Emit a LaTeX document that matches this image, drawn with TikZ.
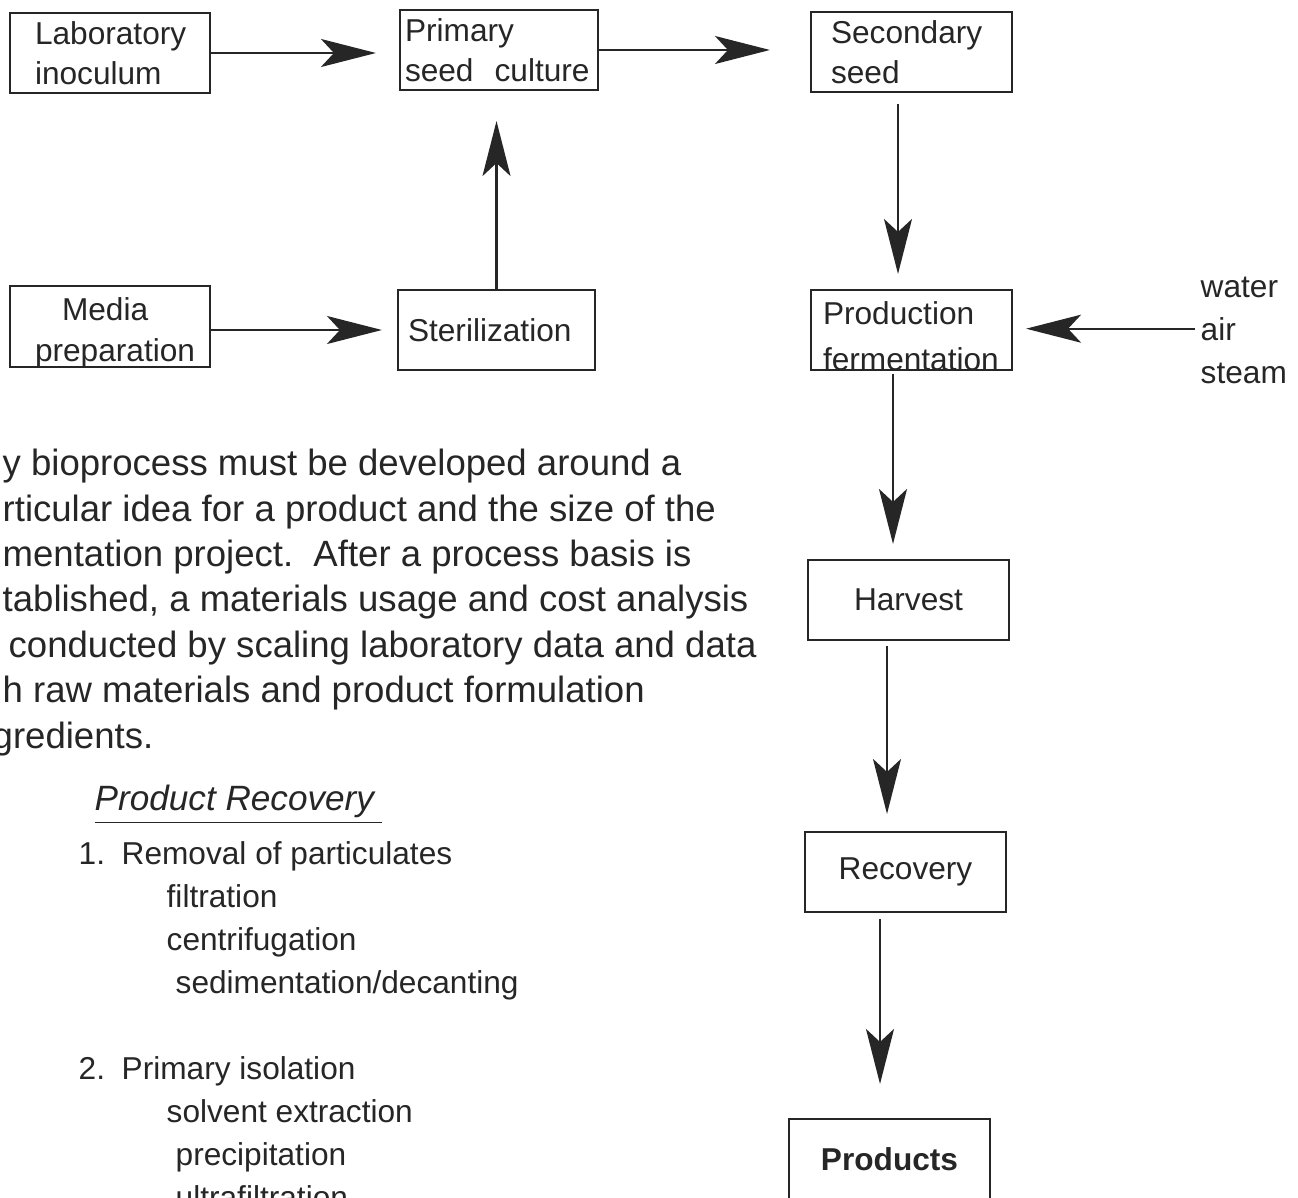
\documentclass[tikz,border=0pt]{standalone}
\usepackage{fontspec}
\setmainfont{Liberation Sans}
\usetikzlibrary{arrows.meta}
\def\boxfont{\fontsize{9}{11.4}\selectfont}
\def\parafont{\fontsize{10.4}{12.9}\selectfont}
\def\listfont{\fontsize{9}{12.2}\selectfont}

\tikzset{
	box/.style={draw, line width=0.6pt, inner sep=0pt, minimum width=20mm, minimum height=8mm, font=\boxfont},
	flow/.style={line width=0.6pt, -{Stealth[length=5.5mm, width=2.8mm, inset=1.3mm]}},
	side/.style={inner sep=0pt, anchor=base west, font=\boxfont},
}

\begin{document}
\begin{tikzpicture}[x=0.1mm, y=-0.1mm, black!85]
			%%%%% START %%%%%
			\useasboundingbox[fill=white] (0,0) rectangle (1298,1197);
			
			\node[box, text width=15mm, align=left] (lab) at (110,53) {Laboratory\\inoculum};
			\node[box, minimum width=19.8mm, text width=18.8mm, align=left] (prim) at (499,50) {Primary\\seed\ \ culture};
			\node[box, minimum width=20.1mm, text width=16.1mm, align=left] (sec) at (911.5,52) {Secondary\\seed};
			
			\node[box, minimum height=8.1mm, text width=15mm, text depth=3.4mm, align=left] (media) at (110,326.5) {\hspace*{2.7mm}Media\\preparation};
			\node[box, minimum width=19.7mm, text width=17.7mm, align=left] (steril) at (496.5,330) {Sterilization};
			\node[box, minimum width=20.1mm, text width=17.7mm, text depth=3.3mm, align=left] (prod) at (911.5,330) {Production\\[0.5mm]fermentation};
			
			\node[box, minimum width=20.1mm] (harv) at (908.5,600) {Harvest};
			\node[box, minimum width=20.1mm] (recov) at (905.5,872) {Recovery};
			\node[box, minimum width=20.1mm, font=\boxfont\bfseries] (prods) at (889.5,1159) {Products};
			
			\node[side] (water) at (1200,297) {water};
			\node[side] (air) at (1200,340) {air};
			\node[side] (steam) at (1200,383) {steam};
			
			\draw[flow, shorten >=2.3mm] (lab.east) -- (lab.east -| prim.west);
			\draw[flow, shorten >=4mm] (prim.east) -- (prim.east -| sec.west);
			\draw[flow, shorten >=1.5mm] (media.east |- steril.west) -- (steril.west);
			\draw[flow, shorten >=3mm] (steril.north) -- (steril.north |- prim.south);
			\draw[flow, shorten <=1.1mm, shorten >=1.5mm] ([xshift=-1.35mm]sec.south) -- ([xshift=-1.35mm]sec.south |- prod.north);
			\draw[flow, shorten <=0.3mm, shorten >=1.5mm] ([xshift=-1.85mm]prod.south) -- ([xshift=-1.85mm]prod.south |- harv.north);
			\draw[flow, shorten <=0.5mm, shorten >=1.7mm] ([xshift=-2.15mm]harv.south) -- ([xshift=-2.15mm]harv.south |- recov.north);
			\draw[flow, shorten <=0.6mm, shorten >=3.4mm] ([xshift=-2.55mm]recov.south) -- ([xshift=-2.55mm]recov.south |- prods.north);
			\draw[flow, shorten <=0.5mm, shorten >=1.3mm] (air.west) -- (air.west -| prod.east);
			
			% base of a multi-line node = its last line
			\node[inner sep=0pt, anchor=base west, align=left, font=\parafont] (intro) at (2,748) {y bioprocess must be developed around a\\
				rticular idea for a product and the size of the\\
				mentation project.\ \ After a process basis is\\
				tablished, a materials usage and cost analysis\\
				\hspace*{0.6mm}conducted by scaling laboratory data and data\\
				h raw materials and product formulation\\
				\hspace*{-1mm}gredients.};
			
			\node[inner sep=0pt, anchor=base west, font=\fontsize{10}{12}\selectfont] (head) at (94,810) {\underline{\textit{Product Recovery}\hspace{0.6mm}}};
			
			\node[inner sep=0pt, anchor=base west, align=left, font=\listfont] (steps) at (78,1208) {\makebox[4.3mm][l]{1.}Removal of particulates\\
				\hspace*{8.8mm}filtration\\
				\hspace*{8.8mm}centrifugation\\
				\hspace*{9.7mm}sedimentation/decanting\\[12.2pt]
				\makebox[4.3mm][l]{2.}Primary isolation\\
				\hspace*{8.8mm}solvent extraction\\
				\hspace*{9.7mm}precipitation\\
				\hspace*{9.7mm}ultrafiltration};
			%%%%% END %%%%%
\end{tikzpicture}
\end{document}
